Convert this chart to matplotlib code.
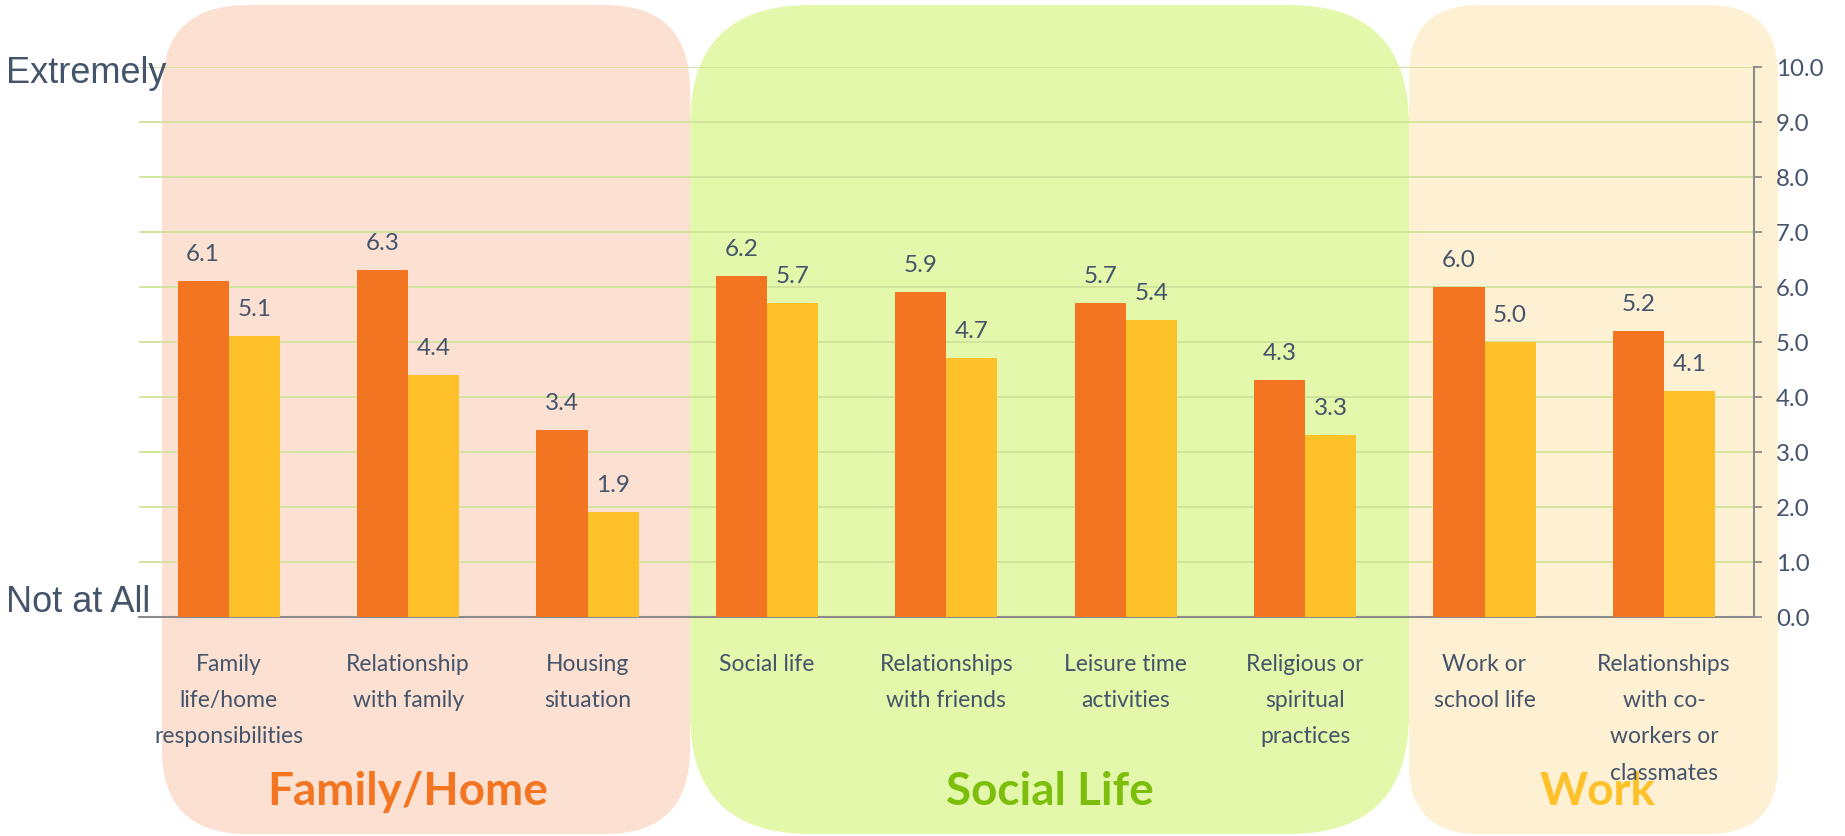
import numpy as np
import matplotlib
matplotlib.use("Agg")
import matplotlib.pyplot as plt
from matplotlib import transforms
from matplotlib.patches import FancyBboxPatch

# data
categories = [
    "Family\nlife/home\nresponsibilities", "Relationship\nwith family", "Housing\nsituation",
    "Social life", "Relationships\nwith friends", "Leisure time\nactivities",
    "Religious or\nspiritual\npractices",
    "Work or\nschool life", "Relationships\nwith co-\nworkers or\nclassmates",
]
series_orange = [6.1, 6.3, 3.4, 6.2, 5.9, 5.7, 4.3, 6.0, 5.2]
series_yellow = [5.1, 4.4, 1.9, 5.7, 4.7, 5.4, 3.3, 5.0, 4.1]
group_names = ["Family/Home", "Social Life", "Work"]
group_label_x = [1.0, 4.58, 7.63]
y_ticks = [0, 1, 2, 3, 4, 5, 6, 7, 8, 9, 10]

ORANGE = "#F47521"
YELLOW = "#FFC12A"
TEXT = "#44546A"
GRID = "#CFE39A"
AXIS = "#8C8C8C"
group_colors = [ORANGE, "#7DBE0C", YELLOW]
# background boxes (pixel layout): left, right, corner radius, fill
boxes = [(162, 690, 85, "#FCE1D3"), (690, 1409, 120, "#E3F8AA"), (1409, 1778, 70, "#FEF1D3")]

plt.rcParams['font.family'] = ['Lato', 'DejaVu Sans']

W, H = 1845, 837
fig = plt.figure(figsize=(W / 100, H / 100), dpi=100)

bg = fig.add_axes([0, 0, 1, 1], zorder=0)
bg.set_xlim(0, W)
bg.set_ylim(H, 0)
bg.axis('off')
for x0, x1, r, c in boxes:
    bg.add_patch(FancyBboxPatch((x0, 6), x1 - x0, H - 8,
                                boxstyle=f"round,pad=0,rounding_size={r}",
                                facecolor=c, edgecolor='none'))

ax = fig.add_axes([139 / W, 1 - 617.7 / H, (1753.6 - 139) / W, 550 / H], zorder=1)
ax.patch.set_alpha(0)

x = np.arange(len(categories))
w = 0.285
ax.bar(x - w / 2, series_orange, w, color=ORANGE, zorder=3)
ax.bar(x + w / 2, series_yellow, w, color=YELLOW, zorder=3)

for xi, a, b in zip(x, series_orange, series_yellow):
    ax.annotate(f"{a:.1f}", (xi - w / 2, a), xytext=(0, 15), textcoords='offset points',
                ha='center', va='baseline', fontsize=17.5, color=TEXT)
    ax.annotate(f"{b:.1f}", (xi + w / 2, b), xytext=(0, 15), textcoords='offset points',
                ha='center', va='baseline', fontsize=17.5, color=TEXT)

ax.set_xlim(-0.5, len(categories) - 0.5)
ax.set_ylim(0, 10)
ax.set_xticks(x)
ax.set_xticklabels(categories)
ax.set_yticks(y_ticks)
ax.set_yticklabels([f"{t:.1f}" for t in y_ticks])
ax.yaxis.tick_right()
ax.yaxis.grid(True, color=GRID, lw=1.3)
ax.set_axisbelow(True)

for s in ['left', 'top']:
    ax.spines[s].set_visible(False)
for s in ['right', 'bottom']:
    ax.spines[s].set_color(AXIS)
    ax.spines[s].set_linewidth(1.5)

ax.tick_params(axis='y', direction='out', length=6, width=1.3, color=AXIS,
               pad=10, labelsize=17.3, labelcolor=TEXT)
ax.tick_params(axis='x', length=0, pad=26, labelsize=16.5, labelcolor=TEXT)
for lab in ax.get_xticklabels():
    lab.set_linespacing(1.9)

# scale end labels
tr = transforms.blended_transform_factory(fig.transFigure, ax.transData)
ax.text(6 / W, 9.72, "Extremely", transform=tr, ha='left', va='baseline',
        fontsize=26, color=TEXT, family=['Liberation Sans', 'DejaVu Sans'], clip_on=False)
ax.text(6 / W, 0.1, "Not at All", transform=tr, ha='left', va='baseline',
        fontsize=26, color=TEXT, family=['Liberation Sans', 'DejaVu Sans'], clip_on=False)

# group titles, kept under the tick labels
gtr = transforms.blended_transform_factory(ax.transData, fig.transFigure)
for name, gx, c in zip(group_names, group_label_x, group_colors):
    bg.text(gx, 1 - 792 / H, name, transform=gtr, ha='center', va='center',
            fontsize=33, fontweight='bold', color=c, clip_on=False)

fig.savefig("out.png", dpi=100)
